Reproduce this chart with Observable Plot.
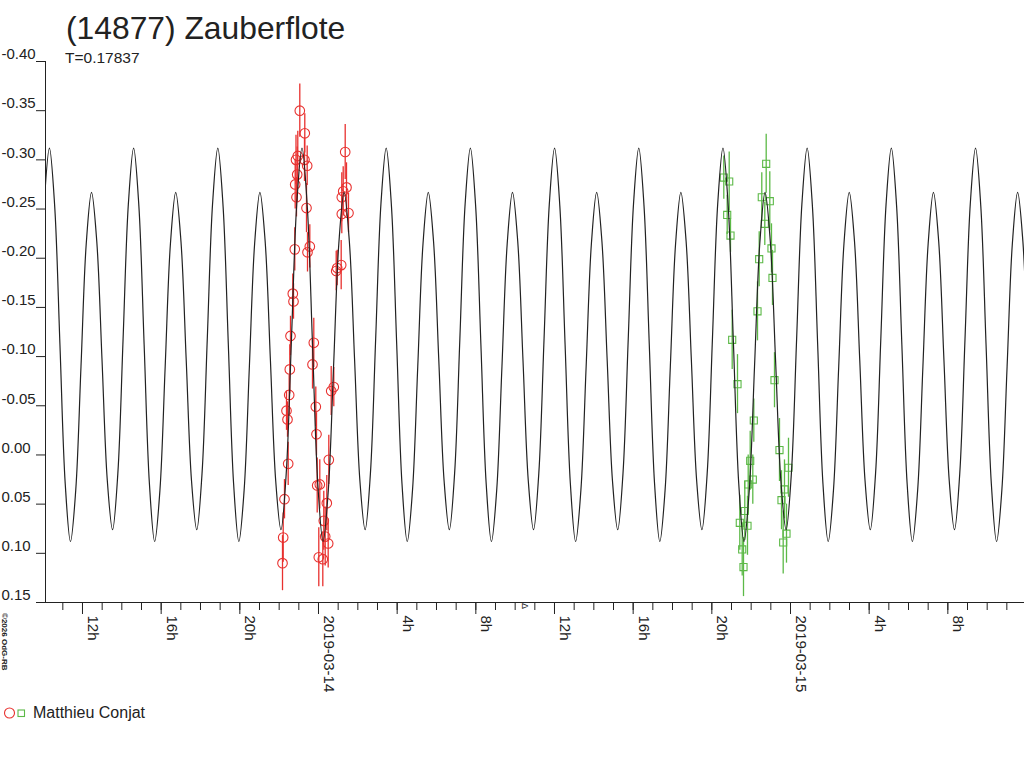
<!DOCTYPE html>
<html>
<head>
<meta charset="utf-8">
<script src="https://cdn.jsdelivr.net/npm/d3@7"></script>
<script src="https://cdn.jsdelivr.net/npm/@observablehq/plot@0.6"></script>
<style>
  html, body { margin: 0; padding: 0; background: #fff; }
  #chart { position: relative; width: 1024px; height: 768px; }
  svg { font-family: "Liberation Sans", Arial, sans-serif; }
</style>
</head>
<body>
<div id="chart"></div>
<script>
// ---- data (hours relative to 2019-03-14 00:00 UTC, magnitudes) ----
const title = "(14877) Zauberflote";
const subtitle = "T=0.17837";
const observer = "Matthieu Conjat";
const periodDays = 0.17837;

// session 1 (red circles)
const redHours = [-1.830,-1.795,-1.729,-1.541,-1.627,-1.576,-1.490,-1.459,-1.424,-1.307,-1.271,-1.205,-1.185,-1.144,-1.119,-1.083,-1.053,-0.951,-0.697,-0.712,-0.575,-0.610,-0.442,-0.559,-0.239,-0.305,-0.137,-0.102,0.066,-0.066,0.015,0.219,0.269,0.341,0.493,0.422,0.524,0.646,0.778,0.900,0.951,1.154,1.185,1.185,1.256,1.424,1.525,1.358];
const redMag = [0.110,0.084,0.045,0.009,-0.045,-0.036,-0.061,-0.087,-0.121,-0.164,-0.156,-0.209,-0.275,-0.300,-0.262,-0.285,-0.304,-0.350,-0.327,-0.300,-0.294,-0.251,-0.212,-0.206,-0.114,-0.092,-0.049,-0.021,0.030,0.031,0.104,0.106,0.067,0.083,0.090,0.049,0.005,-0.065,-0.069,-0.187,-0.190,-0.193,-0.245,-0.262,-0.268,-0.272,-0.246,-0.308];
const redErr = [0.028,0.025,0.020,0.022,0.020,0.018,0.020,0.025,0.020,0.020,0.018,0.022,0.025,0.025,0.020,0.028,0.025,0.027,0.020,0.022,0.020,0.025,0.022,0.020,0.025,0.025,0.020,0.022,0.025,0.028,0.030,0.028,0.030,0.030,0.025,0.028,0.025,0.025,0.020,0.020,0.018,0.025,0.020,0.025,0.025,0.025,0.020,0.028];

// session 2 (green squares)
const greenHours = [20.608,20.883,20.781,20.949,21.035,21.305,21.422,21.544,21.610,21.676,21.813,21.849,21.951,22.083,22.134,22.322,22.408,22.540,22.693,22.764,22.947,23.033,23.084,23.186,23.440,23.542,23.628,23.694,23.796,23.898];
const greenMag = [-0.282,-0.278,-0.244,-0.223,-0.117,-0.072,0.069,0.096,0.114,0.057,0.072,0.030,0.006,0.025,-0.035,-0.146,-0.199,-0.262,-0.235,-0.296,-0.258,-0.210,-0.180,-0.076,-0.005,0.046,0.089,0.035,0.080,0.013];
const greenErr = [0.022,0.030,0.020,0.017,0.030,0.030,0.028,0.027,0.030,0.030,0.030,0.030,0.030,0.025,0.022,0.030,0.028,0.025,0.022,0.030,0.030,0.025,0.028,0.028,0.032,0.030,0.032,0.030,0.030,0.030];

// fitted lightcurve: one period, read at 1/16 phase steps starting at the tall maximum
const curveProfile = [-0.312,-0.253,-0.112,0.029,0.088,0.036,-0.090,-0.215,-0.267,-0.217,-0.096,0.026,0.076,0.019,-0.118,-0.255];
const curvePeakHour = 3.442;

// axes
const xDomainHours = [-13.881, 35.898];
const yTicks = [-0.40,-0.35,-0.30,-0.25,-0.20,-0.15,-0.10,-0.05,0.00,0.05,0.10,0.15];
const majorTickHours = [-12,-8,-4,0,4,8,12,16,20,24,28,32];
const minorTickHours = d3.range(-13, 36);

// ---- build ----
const base = Date.UTC(2019, 2, 14);
const toDate = h => new Date(base + h * 3600000);
const red = redHours.map((h, i) => ({t: toDate(h), m: redMag[i], e: redErr[i]}));
const green = greenHours.map((h, i) => ({t: toDate(h), m: greenMag[i], e: greenErr[i]}));

const periodH = periodDays * 24;
const n = curveProfile.length;
const kMin = Math.floor((xDomainHours[0] - curvePeakHour) / periodH) - 1;
const kMax = Math.ceil((xDomainHours[1] - curvePeakHour) / periodH) + 1;
const curve = [];
for (let k = kMin; k <= kMax; k++) {
  curveProfile.forEach((m, i) => curve.push({t: toDate(curvePeakHour + (k + i / n) * periodH), m}));
}

const fmtX = d => {
  const h = d.getUTCHours();
  return h === 0 ? d3.utcFormat("%Y-%m-%d")(d) : `${h}h`;
};

const RED = "#e8312f";
const GREEN = "#5cb947";
const INK = "#222";

const plot = Plot.plot({
  width: 1024,
  height: 768,
  marginLeft: 45,
  marginRight: 0,
  marginTop: 61,
  marginBottom: 166,
  x: {type: "utc", domain: xDomainHours.map(toDate), axis: null},
  y: {domain: [-0.40, 0.15], reverse: true, axis: null},
  marks: [
    Plot.frame({anchor: "left", stroke: INK}),
    Plot.frame({anchor: "bottom", stroke: INK}),
    Plot.axisY({ticks: yTicks, tickSize: 9, tickFormat: () => "", label: null, stroke: INK}),
    Plot.axisY({ticks: yTicks, tickSize: 0, tickPadding: 0, tickFormat: d => d.toFixed(2), label: null,
      textAnchor: "start", dx: -44, dy: -7, fontSize: 15, fill: INK}),
    Plot.axisX({ticks: minorTickHours.map(toDate), tickSize: 8, tickFormat: () => "", label: null, stroke: INK}),
    Plot.axisX({ticks: majorTickHours.map(toDate), tickSize: 12, tickFormat: () => "", label: null, stroke: INK}),
    Plot.text(majorTickHours.map(toDate), {x: d => d, text: fmtX, frameAnchor: "bottom",
      rotate: 90, textAnchor: "start", dx: 5.5, dy: 13, fontSize: 15, fill: INK}),
    Plot.ruleX(red, {x: "t", y1: d => d.m - d.e, y2: d => d.m + d.e, stroke: RED, strokeWidth: 1.3}),
    Plot.dot(red, {x: "t", y: "m", r: 4.8, stroke: RED, fill: "none", strokeWidth: 1.1}),
    Plot.ruleX(green, {x: "t", y1: d => d.m - d.e, y2: d => d.m + d.e, stroke: GREEN, strokeWidth: 1.3}),
    Plot.dot(green, {x: "t", y: "m", r: 4, symbol: "square", stroke: GREEN, fill: "none", strokeWidth: 1.1}),
    Plot.line(curve, {x: "t", y: "m", stroke: INK, strokeWidth: 1.2, curve: "catmull-rom", clip: true})
  ]
});
document.getElementById("chart").appendChild(plot);

// annotations: title, subtitle, legend, credit
const svg = d3.select(plot);
const g = svg.append("g").attr("text-anchor", "start").attr("fill", INK);
g.append("text").attr("x", 66).attr("y", 39).attr("font-size", 31.8).text(title);
g.append("text").attr("x", 65).attr("y", 63).attr("font-size", 15.5).text(subtitle);
g.append("circle").attr("cx", 9.5).attr("cy", 713).attr("r", 5).attr("fill", "none").attr("stroke", RED).attr("stroke-width", 1.1);
g.append("rect").attr("x", 18).attr("y", 710).attr("width", 6.5).attr("height", 6.5).attr("fill", "none").attr("stroke", GREEN).attr("stroke-width", 1.1);
g.append("text").attr("x", 33).attr("y", 718).attr("font-size", 16).text(observer);
g.append("text").attr("transform", "translate(1.5,613) rotate(90)").attr("font-size", 8).attr("font-weight", "bold").text("©2026 OdG-RB");
g.append("text").attr("transform", "translate(522,603) rotate(90)").attr("font-size", 9).text("Δ");
</script>
</body>
</html>
